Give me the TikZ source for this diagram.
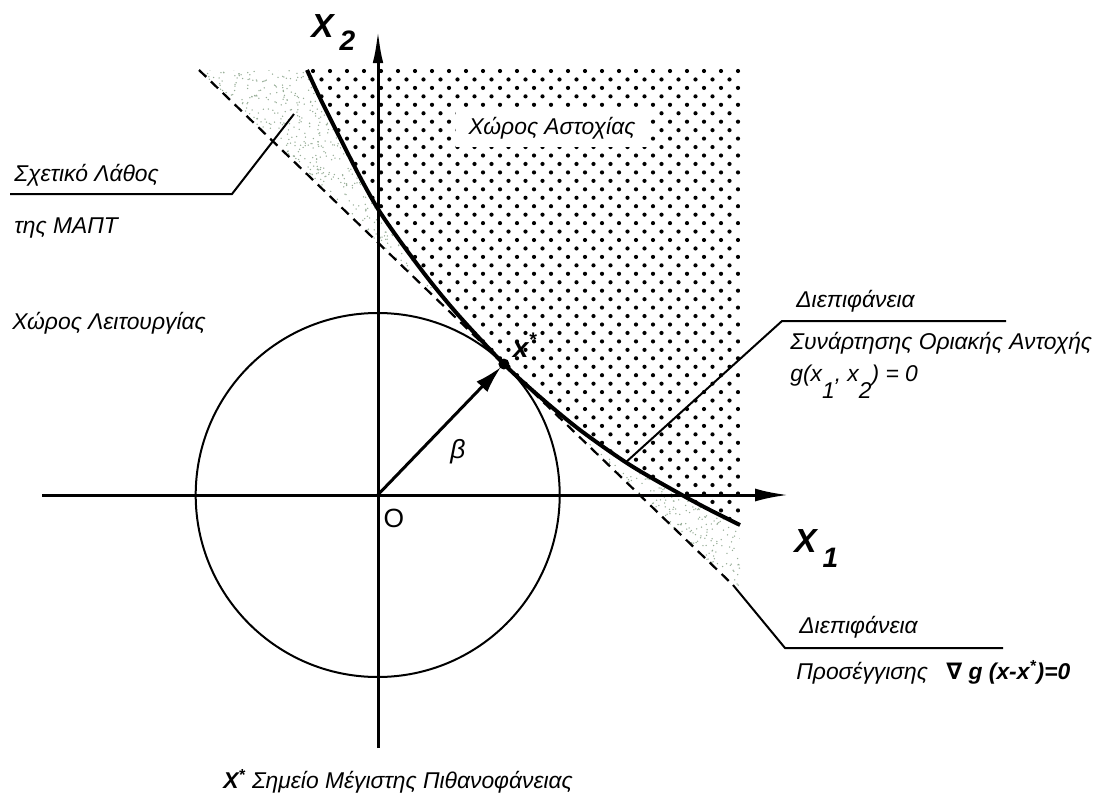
\documentclass[tikz,border=0pt]{standalone}
\usepackage{fontspec}
\setmainfont{Liberation Sans}
\newfontfamily\nablafont{DejaVu Sans}
\usetikzlibrary{arrows.meta}
\definecolor{stipple}{RGB}{150,172,150}
\begin{document}
\begin{tikzpicture}[x=0.2mm,y=-0.2mm,
axis/.style={line width=0.6mm,-{Latex[length=6.6mm,width=2.6mm]}},
limit/.style={line width=0.8mm},
approx/.style={line width=0.45mm,dash pattern=on 2mm off 1.3mm},
leader/.style={line width=0.4mm},
lbl/.style={font=\itshape\fontsize{13}{15}\selectfont,inner sep=0pt,anchor=base west},
axlbl/.style={font=\bfseries\itshape\fontsize{19}{21}\selectfont,inner sep=0pt,anchor=base west}
]
\useasboundingbox (0,0) rectangle (1099,796);
\def\limitcurve{plot[smooth] coordinates {(307,70) (320,98) (340,138) (360,177) (378,209) (400,241) (430,281) (460,317) (503.9,364) (540,397) (580,430) (630,465) (682,495) (710,510) (740,525)}}
% light stipple between the approximation and the limit state
\begin{scope}
\clip \limitcurve -- (740,592) -- (199,70) -- cycle;
\pgfmathsetseed{11}
\foreach \i in {1,...,2000}{
  \pgfmathsetmacro\s{rnd}
  \pgfmathsetmacro\d{rnd*80}
  \fill[stipple] ({199+541*\s+0.694*\d},{70+522*\s-0.72*\d}) circle[radius=0.15mm];
}
\end{scope}
% failure domain
\begin{scope}
\clip \limitcurve -- (741,66) -- (307,66) -- cycle;
\foreach \r in {0,...,54}{
  \foreach \c in {0,...,26}{
    \fill ({738-17*\c-8.5*mod(\r,2)},{71+8.45*\r}) circle[radius=0.42mm];
  }
}
\end{scope}
\coordinate (O) at (377.7,495);
\coordinate (x1start) at (42,495);
\coordinate (x1end) at (788,495);
\coordinate (x2start) at (378,748);
\coordinate (x2end) at (378,30);
\coordinate (xs) at (503.9,364);
\coordinate (dA) at (199,70);
\coordinate (dB) at (733,585);
\draw[axis] (x1start) -- (x1end);
\draw[axis,-{Latex[length=6.6mm,width=2.1mm]}] (x2start) -- (x2end);
\draw[line width=0.4mm] (O) circle[radius=36.4mm];
\draw[approx] (dA) -- (dB);
\draw[limit] \limitcurve;
\draw[line width=0.6mm,-{Latex[length=5.5mm,width=3mm]},shorten >=0.8mm] (O) -- (xs);
\fill (xs) circle[radius=1.1mm];
\coordinate (e1) at (10,194);
\coordinate (k1) at (232,194);
\coordinate (t1) at (294,114);
\draw[leader] (e1) -- (k1) -- (t1);
\coordinate (t2) at (625,463);
\coordinate (k2) at (782,321);
\coordinate (e2) at (1006,321);
\draw[leader] (t2) -- (k2) -- (e2);
\coordinate (k3) at (785,648);
\coordinate (e3) at (1003,648);
\draw[leader] (dB) -- (k3) -- (e3);
\node[lbl] (relerr) at (14,181) {Σχετικό Λάθος};
\node[lbl] (mapt) at (14,233) {της ΜΑΠΤ};
\node[lbl] (safe) at (12,329) {Χώρος Λειτουργίας};
\node[lbl,anchor=center,fill=white,inner xsep=2.6mm,inner ysep=1.6mm] (fail) at (552,128) {Χώρος Αστοχίας};
\node[lbl] (lsf1) at (796,307) {Διεπιφάνεια};
\node[lbl] (lsf2) at (790,349) {Συνάρτησης Οριακής Αντοχής};
\node[lbl] (lsf3) at (790,381) {g(x\raisebox{-3.4mm}{1}, x\raisebox{-3.4mm}{2}) = 0};
\node[lbl] (app1) at (799,633) {Διεπιφάνεια};
\node[lbl] (app2) at (796,679) {Προσέγγισης};
\node[lbl,font=\bfseries\itshape\fontsize{13}{15}\selectfont] (app3) at (946,679) {{\nablafont\upshape ∇} g (x-x\textsuperscript{*})=0};
\node[axlbl] (x2lbl) at (311,37) {X\hspace{1.2mm}\raisebox{-2.6mm}{\fontsize{16}{18}\selectfont 2}};
\node[axlbl] (x1lbl) at (794,552) {X\hspace{1.2mm}\raisebox{-3mm}{\fontsize{16}{18}\selectfont 1}};
\node[font=\fontsize{15}{17}\selectfont] (olbl) at (394,518) {O};
\node[font=\itshape\fontsize{15}{17}\selectfont] (beta) at (458,452) {β};
\node[font=\bfseries\itshape\fontsize{16}{18}\selectfont] (xslbl) at (525,345) {x\textsuperscript{*}};
\node[lbl] (mpp) at (223,788) {{\bfseries X\textsuperscript{*}} Σημείο Μέγιστης Πιθανοφάνειας};
\end{tikzpicture}
\end{document}
